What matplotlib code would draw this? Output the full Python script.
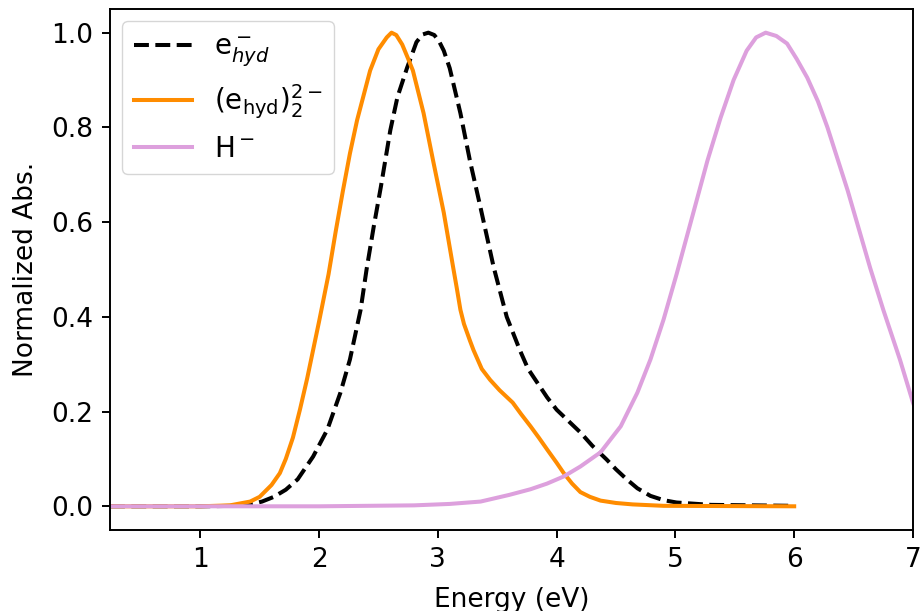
import matplotlib
matplotlib.use("Agg")
import matplotlib.pyplot as plt
import numpy as np

# values (energy in eV, normalized absorbance)
e_hyd_E = [0.24, 1.0, 1.3, 1.42, 1.52, 1.62, 1.72, 1.82, 1.95, 2.07, 2.18, 2.26, 2.35, 2.40,
           2.46, 2.52, 2.60, 2.66, 2.74, 2.82, 2.87, 2.92, 2.97, 3.01, 3.05, 3.10, 3.19, 3.27,
           3.36, 3.47, 3.58, 3.69, 3.76, 3.84, 3.92, 4.00, 4.10, 4.20, 4.30, 4.42, 4.50,
           4.59, 4.68, 4.79, 4.90, 5.01, 5.3, 6.0]
e_hyd_A = [0.0, 0.0, 0.001, 0.004, 0.01, 0.02, 0.035, 0.057, 0.105, 0.162, 0.24, 0.31, 0.415, 0.50,
           0.59, 0.674, 0.794, 0.864, 0.925, 0.98, 0.996, 1.0, 0.995, 0.982, 0.962, 0.925, 0.83, 0.73,
           0.63, 0.505, 0.40, 0.33, 0.29, 0.26, 0.23, 0.204, 0.18, 0.156, 0.128, 0.099, 0.078,
           0.057, 0.038, 0.022, 0.013, 0.008, 0.003, 0.001]

dimer_E = [0.24, 1.0, 1.25, 1.42, 1.50, 1.60, 1.67, 1.72, 1.78, 1.84, 1.90, 1.95, 2.00, 2.08,
           2.14, 2.20, 2.26, 2.32, 2.43, 2.50, 2.57, 2.61, 2.65, 2.70, 2.75, 2.79, 2.88, 2.96,
           3.05, 3.13, 3.16, 3.19, 3.22, 3.27, 3.30, 3.37, 3.44, 3.52, 3.63, 3.70, 3.78, 3.85,
           3.92, 4.00, 4.06, 4.13, 4.20, 4.28, 4.37, 4.50, 4.64, 4.9, 6.0]
dimer_A = [0.0, 0.0, 0.002, 0.01, 0.02, 0.045, 0.07, 0.10, 0.145, 0.205, 0.27, 0.33, 0.39, 0.49,
           0.58, 0.665, 0.745, 0.815, 0.92, 0.965, 0.99, 1.0, 0.995, 0.975, 0.945, 0.92, 0.83, 0.73,
           0.62, 0.503, 0.46, 0.415, 0.385, 0.35, 0.33, 0.29, 0.267, 0.245, 0.219, 0.195, 0.169, 0.145,
           0.12, 0.092, 0.07, 0.048, 0.03, 0.02, 0.012, 0.007, 0.004, 0.001, 0.0]

hminus_E = [0.24, 1.0, 2.0, 2.8, 3.1, 3.36, 3.6, 3.78, 3.92, 4.06, 4.20, 4.37, 4.54, 4.68, 4.79,
            4.90, 5.01, 5.15, 5.27, 5.38, 5.49, 5.60, 5.68, 5.76, 5.85, 5.94, 6.02, 6.11, 6.20,
            6.28, 6.45, 6.64, 6.75, 6.89, 7.0, 7.1]
hminus_A = [0.0, 0.0, 0.0, 0.002, 0.005, 0.01, 0.024, 0.036, 0.048, 0.063, 0.084, 0.114, 0.169, 0.24,
            0.31, 0.394, 0.49, 0.619, 0.73, 0.82, 0.90, 0.962, 0.99, 1.0, 0.993, 0.977, 0.945, 0.905,
            0.855, 0.80, 0.667, 0.503, 0.415, 0.31, 0.219, 0.15]

plt.rcParams["font.size"] = 19
plt.rcParams["axes.linewidth"] = 1.4
for ax_name in ("xtick", "ytick"):
    plt.rcParams[f"{ax_name}.major.size"] = 6
    plt.rcParams[f"{ax_name}.major.width"] = 1.4
    plt.rcParams[f"{ax_name}.major.pad"] = 6

fig = plt.figure(figsize=(9.22, 6.11), dpi=100)
ax = fig.add_axes([0.1193, 0.1326, 0.8709, 0.8527])

ax.plot(e_hyd_E, e_hyd_A, color="k", linestyle="--", linewidth=2.9, label=r"e$^-_{hyd}$")
ax.plot(dimer_E, dimer_A, color="darkorange", linewidth=2.9, label=r"(e$_{\rm hyd}$)$_2^{2-}$")
ax.plot(hminus_E, hminus_A, color="plum", linewidth=2.9, label=r"H$^-$")

ax.set_xlim(0.24, 7)
ax.set_ylim(-0.05, 1.05)
ax.set_xticks([1, 2, 3, 4, 5, 6, 7])
ax.set_yticks([0.0, 0.2, 0.4, 0.6, 0.8, 1.0])
ax.set_xlabel("Energy (eV)", labelpad=10)
ax.set_ylabel("Normalized Abs.", labelpad=9)
ax.legend(loc="upper left", fontsize=20, handlelength=2.1, borderaxespad=0.45)

fig.savefig("out.png", dpi=100)
